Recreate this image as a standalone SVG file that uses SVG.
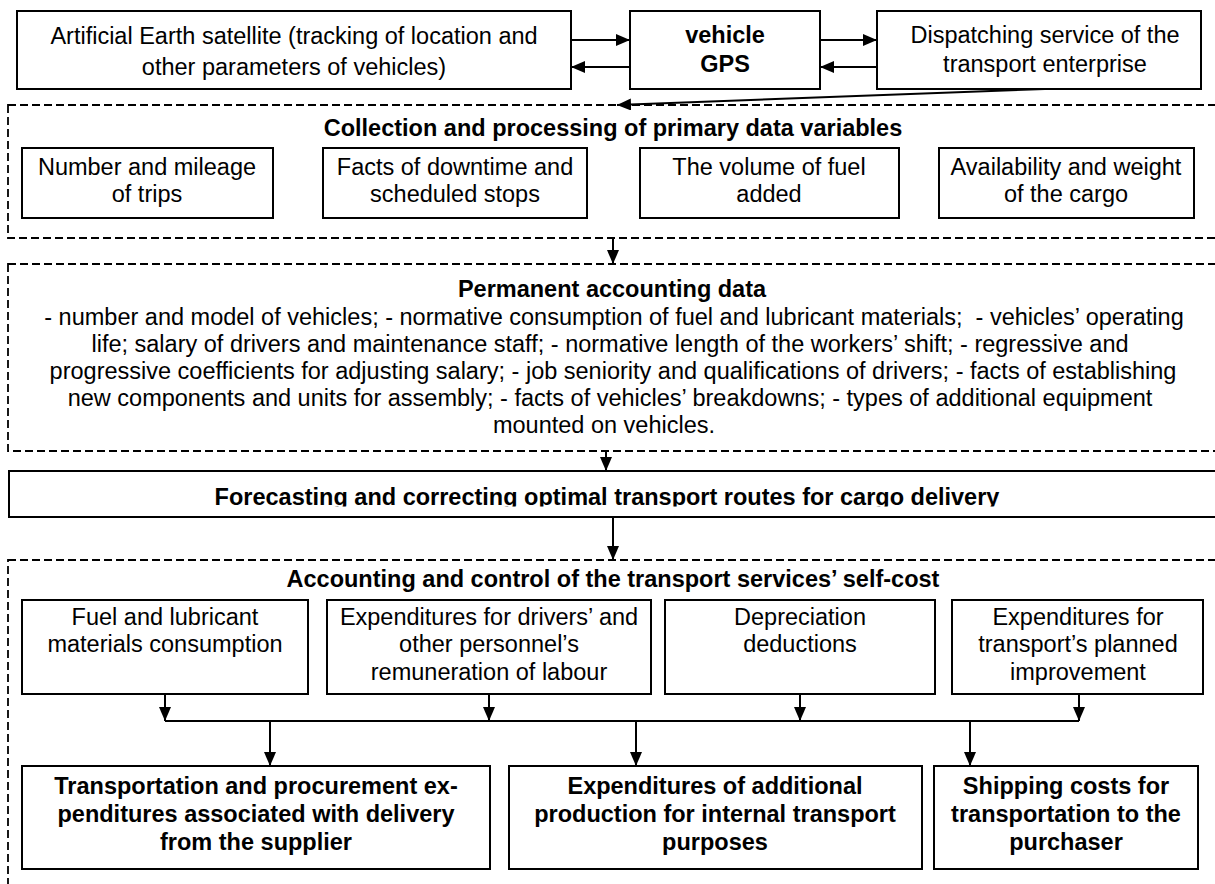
<svg xmlns="http://www.w3.org/2000/svg" width="1215" height="884" viewBox="0 0 1215 884">
<style>
  text { font-family: "Liberation Sans", Arial, sans-serif; font-size: 23.5px; fill: #000; }
  .b { font-weight: bold; }
  .box { fill: #fff; stroke: #000; stroke-width: 2; }
  .dash { fill: none; stroke: #000; stroke-width: 1.8; stroke-dasharray: 8 4; }
  .ln { fill: none; stroke: #000; stroke-width: 2; }
  .arr { fill: none; stroke: #000; stroke-width: 2; marker-end: url(#ah); }
</style>
<defs>
  <marker id="ah" viewBox="0 0 14 12" refX="14" refY="6" markerWidth="14" markerHeight="12" markerUnits="userSpaceOnUse" orient="auto">
    <path d="M0,0 L14,6 L0,12 z" fill="#000"/>
  </marker>
  <clipPath id="fcClip"><rect x="0" y="470" width="1215" height="36.5"/></clipPath>
</defs>
<rect width="1215" height="884" fill="#fff"/>

<!-- containers -->
<g id="container-collection">
  <rect class="dash" x="8" y="105" width="1215" height="133"/>
  <text class="b" x="613" y="136" text-anchor="middle">Collection and processing of primary data variables</text>
</g>
<g id="container-permanent">
  <rect class="dash" x="8" y="264" width="1215" height="187"/>
  <text class="b" x="612" y="297" text-anchor="middle">Permanent accounting data</text>
  <text x="614" y="325" text-anchor="middle" xml:space="preserve">- number and model of vehicles; - normative consumption of fuel and lubricant materials;  - vehicles’ operating</text>
  <text x="610" y="352" text-anchor="middle">life; salary of drivers and maintenance staff; - normative length of the workers’ shift; - regressive and</text>
  <text x="613" y="379" text-anchor="middle">progressive coefficients for adjusting salary; - job seniority and qualifications of drivers; - facts of establishing</text>
  <text x="610" y="406" text-anchor="middle">new components and units for assembly; - facts of vehicles’ breakdowns; - types of additional equipment</text>
  <text x="604" y="433" text-anchor="middle">mounted on vehicles.</text>
</g>
<g id="container-accounting">
  <rect class="dash" x="8" y="560" width="1215" height="340"/>
  <text class="b" x="613" y="587" text-anchor="middle">Accounting and control of the transport services’ self-cost</text>
</g>

<!-- top row -->
<g id="satellite">
  <rect class="box" x="17" y="11" width="554" height="78"/>
  <text x="294" y="44" text-anchor="middle">Artificial Earth satellite (tracking of location and</text>
  <text x="294" y="75" text-anchor="middle">other parameters of vehicles)</text>
</g>
<g id="gps">
  <rect class="box" x="630" y="11" width="190" height="78"/>
  <text class="b" x="725" y="43" text-anchor="middle">vehicle</text>
  <text class="b" x="725" y="72" text-anchor="middle">GPS</text>
</g>
<g id="dispatching">
  <rect class="box" x="877" y="11" width="324" height="78"/>
  <text x="1045" y="43" text-anchor="middle">Dispatching service of the</text>
  <text x="1045" y="72" text-anchor="middle">transport enterprise</text>
</g>

<!-- collection items -->
<g id="trips">
  <rect class="box" x="22" y="148" width="251" height="70"/>
  <text x="147" y="175" text-anchor="middle">Number and mileage</text>
  <text x="147" y="202" text-anchor="middle">of trips</text>
</g>
<g id="downtime">
  <rect class="box" x="323" y="148" width="264" height="70"/>
  <text x="455" y="175" text-anchor="middle">Facts of downtime and</text>
  <text x="455" y="202" text-anchor="middle">scheduled stops</text>
</g>
<g id="fuel-added">
  <rect class="box" x="640" y="148" width="259" height="70"/>
  <text x="769" y="175" text-anchor="middle">The volume of fuel</text>
  <text x="769" y="202" text-anchor="middle">added</text>
</g>
<g id="cargo">
  <rect class="box" x="939" y="148" width="255" height="70"/>
  <text x="1066" y="175" text-anchor="middle">Availability and weight</text>
  <text x="1066" y="202" text-anchor="middle">of the cargo</text>
</g>

<!-- forecasting -->
<g id="forecasting">
  <rect class="box" x="9" y="471" width="1220" height="46"/>
  <text class="b" x="607" y="505" text-anchor="middle" clip-path="url(#fcClip)">Forecasting and correcting optimal transport routes for cargo delivery</text>
</g>

<!-- cost items -->
<g id="fuel-consumption">
  <rect class="box" x="22" y="600" width="286" height="94"/>
  <text x="165" y="625" text-anchor="middle">Fuel and lubricant</text>
  <text x="165" y="652" text-anchor="middle">materials consumption</text>
</g>
<g id="remuneration">
  <rect class="box" x="327" y="600" width="324" height="94"/>
  <text x="489" y="625" text-anchor="middle">Expenditures for drivers’ and</text>
  <text x="489" y="652" text-anchor="middle">other personnel’s</text>
  <text x="489" y="680" text-anchor="middle">remuneration of labour</text>
</g>
<g id="depreciation">
  <rect class="box" x="665" y="600" width="270" height="94"/>
  <text x="800" y="625" text-anchor="middle">Depreciation</text>
  <text x="800" y="652" text-anchor="middle">deductions</text>
</g>
<g id="improvement">
  <rect class="box" x="952" y="600" width="251" height="94"/>
  <text x="1078" y="625" text-anchor="middle">Expenditures for</text>
  <text x="1078" y="652" text-anchor="middle">transport’s planned</text>
  <text x="1078" y="680" text-anchor="middle">improvement</text>
</g>

<!-- result boxes -->
<g id="procurement">
  <rect class="box" x="22" y="766" width="468" height="103"/>
  <text class="b" x="256" y="794" text-anchor="middle">Transportation and procurement ex-</text>
  <text class="b" x="256" y="822" text-anchor="middle">penditures associated with delivery</text>
  <text class="b" x="256" y="850" text-anchor="middle">from the supplier</text>
</g>
<g id="internal">
  <rect class="box" x="509" y="766" width="413" height="103"/>
  <text class="b" x="715" y="794" text-anchor="middle">Expenditures of additional</text>
  <text class="b" x="715" y="822" text-anchor="middle">production for internal transport</text>
  <text class="b" x="715" y="850" text-anchor="middle">purposes</text>
</g>
<g id="shipping">
  <rect class="box" x="934" y="766" width="264" height="103"/>
  <text class="b" x="1066" y="794" text-anchor="middle">Shipping costs for</text>
  <text class="b" x="1066" y="822" text-anchor="middle">transportation to the</text>
  <text class="b" x="1066" y="850" text-anchor="middle">purchaser</text>
</g>

<!-- connectors -->
<g id="connectors">
  <line class="arr" x1="571" y1="40" x2="630" y2="40"/>
  <line class="arr" x1="630" y1="67" x2="571" y2="67"/>
  <line class="arr" x1="820" y1="40" x2="877" y2="40"/>
  <line class="arr" x1="877" y1="67" x2="820" y2="67"/>
  <line class="arr" x1="1045" y1="89" x2="617" y2="105"/>
  <line class="arr" x1="613" y1="238" x2="613" y2="264"/>
  <line class="arr" x1="606" y1="451" x2="606" y2="471"/>
  <line class="arr" x1="613" y1="517" x2="613" y2="560"/>
  <line class="arr" x1="165" y1="694" x2="165" y2="721"/>
  <line class="arr" x1="489" y1="694" x2="489" y2="721"/>
  <line class="arr" x1="800" y1="694" x2="800" y2="721"/>
  <line class="arr" x1="1079" y1="694" x2="1079" y2="721"/>
  <line class="ln" x1="165" y1="721" x2="1079" y2="721"/>
  <line class="arr" x1="270" y1="721" x2="270" y2="766"/>
  <line class="arr" x1="636" y1="721" x2="636" y2="766"/>
  <line class="arr" x1="970" y1="721" x2="970" y2="766"/>
</g>
</svg>
